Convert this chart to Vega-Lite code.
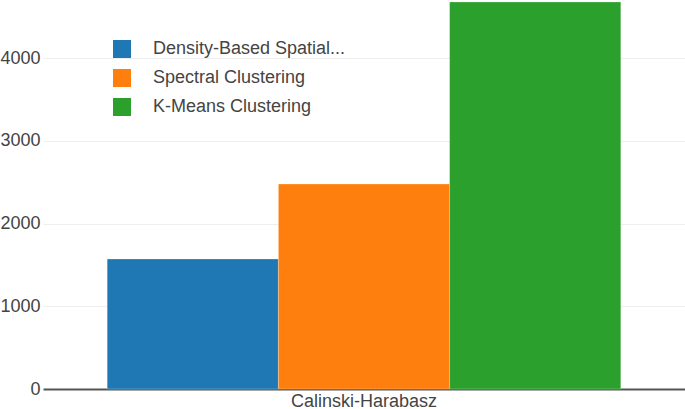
{
  "$schema": "https://vega.github.io/schema/vega-lite/v6.json",
  "width": 642,
  "height": 389,
  "autosize": {"type": "none"},
  "padding": {"left": 43, "top": 0, "right": 0, "bottom": 20},
  "background": "white",
  "config": {
    "view": {"stroke": null},
    "font": "Liberation Sans"
  },
  "data": {
    "values": [
      {"metric": "Calinski-Harabasz", "method": "Density-Based Spatial...", "value": 1571},
      {"metric": "Calinski-Harabasz", "method": "Spectral Clustering", "value": 2477},
      {"metric": "Calinski-Harabasz", "method": "K-Means Clustering", "value": 4677}
    ]
  },
  "mark": {"type": "bar", "stroke": "white", "strokeOpacity": 0.5, "strokeWidth": 0.5},
  "encoding": {
    "x": {
      "field": "metric",
      "type": "nominal",
      "scale": {"paddingInner": 0, "paddingOuter": 0.125},
      "axis": {
        "title": null,
        "labelAngle": 0,
        "ticks": false,
        "labelFontSize": 18,
        "labelColor": "#444",
        "labelPadding": 3,
        "domainColor": "#555",
        "domainWidth": 2
      }
    },
    "xOffset": {
      "field": "method",
      "type": "nominal",
      "sort": ["Density-Based Spatial...", "Spectral Clustering", "K-Means Clustering"],
      "scale": {"paddingInner": 0, "paddingOuter": 0}
    },
    "y": {
      "field": "value",
      "type": "quantitative",
      "scale": {"domain": [0, 4701], "nice": false},
      "axis": {
        "title": null,
        "values": [0, 1000, 2000, 3000, 4000],
        "format": "d",
        "ticks": false,
        "domain": false,
        "labelFontSize": 18,
        "labelColor": "#444",
        "labelPadding": 3,
        "gridColor": "#eeeeee",
        "gridWidth": 1
      }
    },
    "color": {
      "field": "method",
      "type": "nominal",
      "sort": ["Density-Based Spatial...", "Spectral Clustering", "K-Means Clustering"],
      "scale": {
        "domain": ["Density-Based Spatial...", "Spectral Clustering", "K-Means Clustering"],
        "range": ["#1f77b4", "#ff7f0e", "#2ca02c"]
      },
      "legend": {
        "title": null,
        "orient": "none",
        "legendX": 70,
        "legendY": 40,
        "symbolType": "square",
        "symbolSize": 324,
        "symbolStrokeWidth": 0,
        "symbolOpacity": 1,
        "labelFontSize": 18,
        "labelColor": "#444",
        "labelOffset": 22,
        "rowPadding": 11,
        "labelLimit": 400
      }
    }
  }
}
